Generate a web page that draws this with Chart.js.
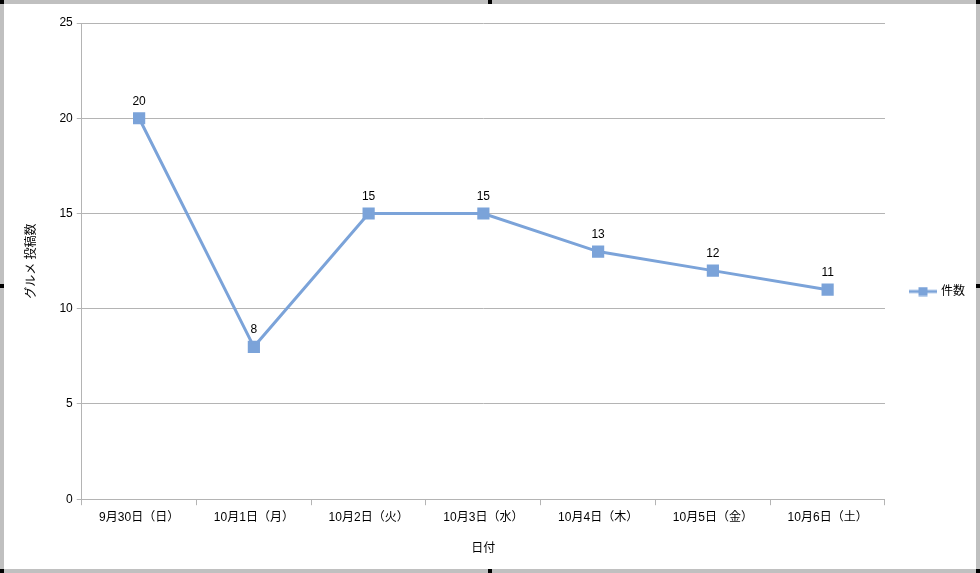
<!DOCTYPE html>
<html>
<head>
<meta charset="utf-8">
<script src="https://cdn.jsdelivr.net/npm/chart.js@4.4.1/dist/chart.umd.min.js"></script>
<style>
  html, body { margin: 0; padding: 0; background: #fff; }
  #frame { position: relative; width: 980px; height: 573px; box-sizing: border-box; border: 4px solid #c0c0c0; }
  #lineChart { display: block; }
  .h { position: absolute; background: #000; width: 4px; height: 4px; }
</style>
</head>
<body>
<div id="frame">
  <canvas id="lineChart" width="972" height="565"></canvas>
</div>
<div class="h" style="left:0;top:0"></div>
<div class="h" style="left:488px;top:0"></div>
<div class="h" style="left:976px;top:0"></div>
<div class="h" style="left:0;top:284px"></div>
<div class="h" style="left:976px;top:284px"></div>
<div class="h" style="left:0;top:569px"></div>
<div class="h" style="left:488px;top:569px"></div>
<div class="h" style="left:976px;top:569px"></div>
<script>
const dateLabels = ['9月30日（日）', '10月1日（月）', '10月2日（火）', '10月3日（水）', '10月4日（木）', '10月5日（金）', '10月6日（土）'];
const postCounts = [20, 8, 15, 15, 13, 12, 11];
const seriesName = '件数';
const yTicks = [0, 5, 10, 15, 20, 25];

const FONT = "'Liberation Sans', 'Noto Sans CJK JP', sans-serif";
const LINE_COLOR = '#7ba3d9';
const GRID_COLOR = '#b4b4b4';

// legend marker: line with a square on it
function legendMarker() {
  const c = document.createElement('canvas');
  c.width = 28; c.height = 10;
  const g = c.getContext('2d');
  g.strokeStyle = LINE_COLOR; g.lineWidth = 3;
  g.beginPath(); g.moveTo(0, 5); g.lineTo(28, 5); g.stroke();
  g.fillStyle = LINE_COLOR;
  g.fillRect(9.5, 0.5, 9, 9);
  return c;
}

const valueLabels = {
  id: 'valueLabels',
  afterDatasetsDraw(chart) {
    const ctx = chart.ctx;
    const meta = chart.getDatasetMeta(0);
    ctx.save();
    ctx.font = '12px ' + FONT;
    ctx.fillStyle = '#000';
    ctx.textAlign = 'center';
    ctx.textBaseline = 'middle';
    meta.data.forEach((pt, i) => {
      ctx.fillText(String(postCounts[i]), pt.x, pt.y - 17);
    });
    ctx.restore();
  }
};

function renderLineChart() {
  const ctx = document.getElementById('lineChart');
  if (!ctx) return;
  new Chart(ctx, {
    type: 'line',
    data: {
      labels: dateLabels,
      datasets: [{
        label: seriesName,
        data: postCounts,
        borderColor: LINE_COLOR,
        backgroundColor: LINE_COLOR,
        borderWidth: 3,
        pointStyle: 'rect',
        pointRadius: 6.5,
        pointHoverRadius: 6.5,
        tension: 0
      }]
    },
    options: {
      responsive: false,
      animation: false,
      layout: { padding: { top: 19, left: 16, right: 1, bottom: 9 } },
      scales: {
        x: {
          offset: true,
          grid: { display: true, drawOnChartArea: false, offset: true, tickLength: 6, color: GRID_COLOR },
          border: { color: GRID_COLOR },
          ticks: { color: '#000', font: { family: FONT, size: 12 }, padding: 5, maxRotation: 0 },
          title: { display: true, text: '日付', color: '#000', font: { family: FONT, size: 12 }, padding: { top: 12 } }
        },
        y: {
          min: 0,
          max: 25,
          afterBuildTicks(scale) { scale.ticks = yTicks.map(v => ({ value: v })); },
          grid: { color: GRID_COLOR, tickLength: 5 },
          border: { color: GRID_COLOR },
          ticks: { color: '#000', font: { family: FONT, size: 12 }, padding: 4 },
          title: { display: true, text: 'グルメ 投稿数', color: '#000', font: { family: FONT, size: 12 }, padding: { bottom: 17 } }
        }
      },
      plugins: {
        legend: {
          position: 'right',
          labels: {
            usePointStyle: true,
            pointStyle: legendMarker(),
            pointStyleWidth: 24,
            color: '#000',
            font: { family: FONT, size: 12 },
            padding: 26
          }
        },
        tooltip: { enabled: false }
      }
    },
    plugins: [valueLabels]
  });
}

renderLineChart();
</script>
</body>
</html>
